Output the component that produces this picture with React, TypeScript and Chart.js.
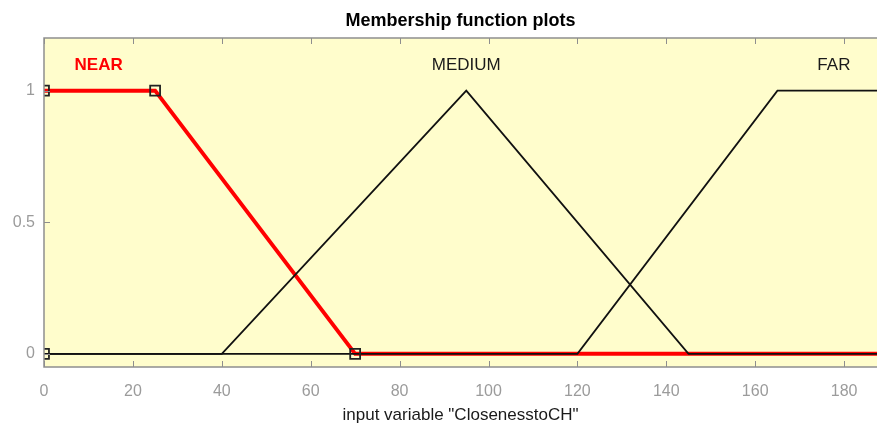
import React, { useEffect, useRef } from "react";
import { Chart, registerables } from "chart.js";

Chart.register(...registerables);

const xTicks = [0, 20, 40, 60, 80, 100, 120, 140, 160, 180];
const yTicks = [0, 0.5, 1];

const nearX = [0, 25, 70, 200];
const nearY = [1, 1, 0, 0];
const mediumX = [0, 40, 95, 145, 200];
const mediumY = [0, 0, 1, 0, 0];
const farX = [0, 120, 165, 200];
const farY = [0, 0, 1, 1];
const nearParamX = [0, 0, 25, 70];
const nearParamY = [0, 1, 1, 0];

const mfNames = ["NEAR", "MEDIUM", "FAR"];
const mfLabelX = [12.3, 95, 177.7];
const mfLabelY = [1.095, 1.095, 1.095];

const X_MIN = 0;
const X_MAX = 187.4;
const Y_MIN = -0.05;
const Y_MAX = 1.2;

const FONT = "'Liberation Sans', Arial, Helvetica, sans-serif";
const AXIS_COLOR = "#8e8e8e";
const TICK_LABEL_COLOR = "#9b9b9b";
const BG = "#FFFDCC";

const zip = (xs: number[], ys: number[]) => xs.map((x, i) => ({ x, y: ys[i] }));

const matlabPlugin = {
  id: "matlabAxes",
  beforeDatasetsDraw(chart: any) {
    const { ctx, chartArea: a } = chart;
    ctx.save();
    ctx.fillStyle = BG;
    ctx.fillRect(a.left, a.top, a.right - a.left, a.bottom - a.top);
    ctx.restore();
  },
  afterDatasetsDraw(chart: any) {
    const { ctx, chartArea: a, scales } = chart;
    const xs = scales.x;
    const ys = scales.y;
    ctx.save();
    ctx.strokeStyle = AXIS_COLOR;
    ctx.lineWidth = 1.5;
    ctx.beginPath();
    ctx.moveTo(a.right + 1, a.top);
    ctx.lineTo(a.left, a.top);
    ctx.lineTo(a.left, a.bottom);
    ctx.lineTo(a.right + 1, a.bottom);
    ctx.stroke();
    ctx.lineWidth = 1;
    ctx.beginPath();
    const tl = 6;
    xTicks.forEach((v) => {
      const px = Math.round(xs.getPixelForValue(v)) + 0.5;
      ctx.moveTo(px, a.bottom);
      ctx.lineTo(px, a.bottom - tl);
      ctx.moveTo(px, a.top);
      ctx.lineTo(px, a.top + tl);
    });
    yTicks.forEach((v) => {
      const py = Math.round(ys.getPixelForValue(v)) + 0.5;
      ctx.moveTo(a.left, py);
      ctx.lineTo(a.left + tl, py);
    });
    ctx.stroke();

    ctx.textAlign = "center";
    ctx.textBaseline = "middle";
    mfNames.forEach((name, i) => {
      const selected = i === 0;
      ctx.fillStyle = selected ? "#ff0000" : "#1a1a1a";
      ctx.font = `${selected ? "bold " : ""}17px ${FONT}`;
      ctx.fillText(name, xs.getPixelForValue(mfLabelX[i]), ys.getPixelForValue(mfLabelY[i]));
    });
    ctx.restore();
  },
};

export default function App() {
  const ref = useRef<HTMLCanvasElement | null>(null);

  useEffect(() => {
    document.body.style.margin = "0";
    const canvas = ref.current;
    if (!canvas) return;
    const chart = new Chart(canvas, {
      type: "line",
      data: {
        datasets: [
          {
            label: "params",
            data: zip(nearParamX, nearParamY),
            showLine: false,
            pointStyle: "rect",
            pointRadius: 7,
            pointBackgroundColor: "rgba(0,0,0,0)",
            pointBorderColor: "#222222",
            pointBorderWidth: 1.8,
            order: 0,
            clip: 0,
          } as any,
          {
            label: "MEDIUM",
            data: zip(mediumX, mediumY),
            borderColor: "#111111",
            borderWidth: 1.8,
            pointRadius: 0,
            tension: 0,
            order: 1,
          },
          {
            label: "FAR",
            data: zip(farX, farY),
            borderColor: "#111111",
            borderWidth: 1.8,
            pointRadius: 0,
            tension: 0,
            order: 1,
          },
          {
            label: "NEAR",
            data: zip(nearX, nearY),
            borderColor: "#ff0000",
            borderWidth: 4,
            pointRadius: 0,
            tension: 0,
            order: 2,
          },
        ],
      },
      options: {
        responsive: false,
        animation: false,
        events: [],
        layout: { padding: 0, autoPadding: false },
        plugins: {
          legend: { display: false },
          tooltip: { enabled: false },
          title: {
            display: true,
            text: "Membership function plots",
            color: "#000000",
            fullSize: false,
            font: { family: FONT, size: 18, weight: "bold", lineHeight: 1.2 },
            padding: { top: 10, bottom: 6.4 },
          },
        },
        scales: {
          x: {
            type: "linear",
            min: X_MIN,
            max: X_MAX,
            grid: { display: false, drawTicks: false },
            border: { display: false },
            afterBuildTicks: (s: any) => {
              s.ticks = xTicks.map((v) => ({ value: v }));
            },
            afterFit: (s: any) => {
              s.height = 57;
            },
            ticks: {
              color: TICK_LABEL_COLOR,
              font: { family: FONT, size: 16 },
              padding: 15,
              maxRotation: 0,
              autoSkip: false,
            },
            title: {
              display: true,
              text: 'input variable "ClosenesstoCH"',
              color: "#1a1a1a",
              font: { family: FONT, size: 17 },
              padding: { top: 0, bottom: -2 },
            },
          },
          y: {
            type: "linear",
            min: Y_MIN,
            max: Y_MAX,
            grid: { display: false, drawTicks: false },
            border: { display: false },
            afterBuildTicks: (s: any) => {
              s.ticks = yTicks.map((v) => ({ value: v }));
            },
            afterFit: (s: any) => {
              s.width = 44;
            },
            ticks: {
              color: TICK_LABEL_COLOR,
              font: { family: FONT, size: 16 },
              padding: 9,
              callback: (v: any) => String(v),
            },
          },
        },
      },
      plugins: [matlabPlugin],
    });
    return () => chart.destroy();
  }, []);

  return <canvas ref={ref} width={877} height={424} style={{ display: "block" }} />;
}
